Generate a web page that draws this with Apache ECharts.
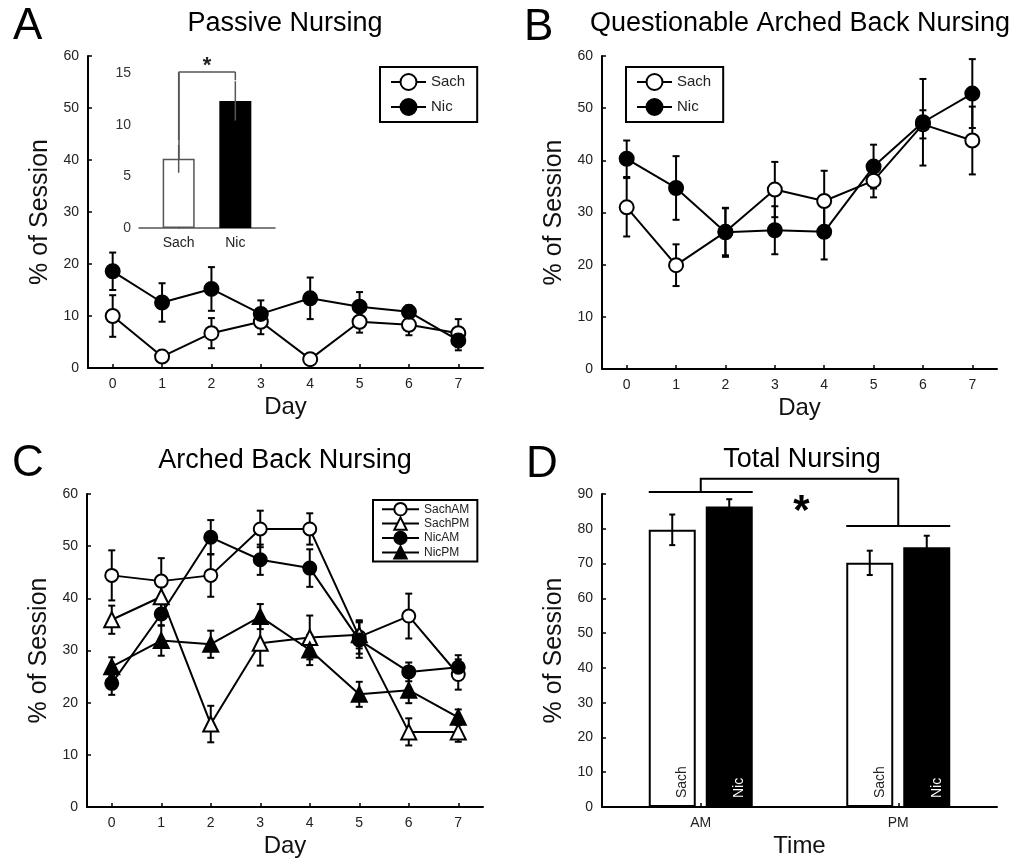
<!DOCTYPE html>
<html><head><meta charset="utf-8">
<script src="https://cdn.jsdelivr.net/npm/echarts@6/dist/echarts.min.js"></script>
<style>html,body{margin:0;padding:0;background:#fff}#c{width:1021px;height:859px}</style>
</head><body><div id="c"></div>
<script>
// ---------- data ----------
const days = ['0','1','2','3','4','5','6','7'];
// A: Passive Nursing
const passiveSach    = [10.0, 2.2, 6.7, 8.9, 1.7, 8.9, 8.3, 6.7];
const passiveSachSem = [4.0, 1.0, 2.9, 2.4, 0.8, 2.1, 2.0, 2.7];
const passiveNic     = [18.6, 12.6, 15.2, 10.4, 13.4, 11.8, 10.8, 5.3];
const passiveNicSem  = [3.6, 3.7, 4.2, 2.6, 4.0, 2.8, 1.2, 1.9];
// A inset
const insetCats  = ['Sach', 'Nic'];
const insetMeans = [6.7, 12.3];
const insetSem   = [1.35, 1.9];
const insetSigLevel = 15.1;
const insetSigLegEnds = [8.5, 14.3];
// B: Questionable Arched Back Nursing
const qabnSach    = [31.0, 19.9, 26.3, 34.4, 32.2, 36.1, 46.9, 43.8];
const qabnSachSem = [5.6, 4.0, 4.5, 5.3, 5.8, 3.2, 2.7, 6.5];
const qabnNic     = [40.3, 34.7, 26.2, 26.6, 26.3, 38.8, 47.3, 52.8];
const qabnNicSem  = [3.5, 6.1, 4.7, 4.6, 5.3, 4.2, 8.3, 6.6];
// C: Arched Back Nursing
const abnSachAM    = [44.4, 43.3, 44.4, 53.3, 53.3, 32.6, 36.6, 25.4];
const abnSachAMSem = [4.8, 4.4, 4.1, 3.5, 3.0, 3.2, 4.3, 2.9];
const abnSachPM    = [35.9, 40.3, 15.9, 31.4, 32.5, 33.0, 14.4, 14.4];
const abnSachPMSem = [2.7, 2.5, 3.5, 4.3, 4.2, 2.6, 2.6, 1.9];
const abnNicAM     = [23.7, 37.0, 51.7, 47.4, 45.8, 32.0, 25.9, 26.8];
const abnNicAMSem  = [2.2, 2.2, 3.3, 2.9, 3.6, 3.4, 1.8, 2.3];
const abnNicPM     = [26.9, 31.9, 31.2, 36.5, 30.1, 21.6, 22.4, 17.2];
const abnNicPMSem  = [1.8, 2.9, 2.6, 2.4, 2.9, 2.4, 2.5, 1.5];
// D: Total Nursing
const timeCats    = ['AM', 'PM'];
const totalSach    = [79.7, 70.2];
const totalSachSem = [4.4, 3.5];
const totalNic     = [86.4, 74.7];
const totalNicSem  = [2.1, 3.3];
const totalSigLevels = {am: 90.6, pm: 80.8, top: 94.4, star: 87.5};

// ---------- helpers ----------
const FONT = "'Liberation Sans', Arial, Helvetica, sans-serif";
const INK = '#111';

function dayAxis(gi) {
  return {
    type: 'category', gridIndex: gi, data: days, boundaryGap: true,
    name: 'Day', nameLocation: 'middle', nameGap: 27,
    nameTextStyle: {fontSize: 24, color: INK, fontFamily: FONT},
    axisLine: {show: true, lineStyle: {color: '#000', width: 2}},
    axisTick: {show: true, alignWithLabel: true, inside: true, length: 4, lineStyle: {color: '#000', width: 1.5}},
    axisLabel: {fontSize: 14, color: '#222', margin: 9, fontFamily: FONT},
    splitLine: {show: false}
  };
}
function pctAxis(gi, max, interval) {
  return {
    type: 'value', gridIndex: gi, min: 0, max: max, interval: interval,
    name: '% of Session', nameLocation: 'middle', nameGap: 35,
    nameTextStyle: {fontSize: 25, color: INK, fontFamily: FONT},
    axisLine: {show: true, lineStyle: {color: '#000', width: 2}},
    axisTick: {show: true, inside: true, length: 4, lineStyle: {color: '#000', width: 1.5}},
    axisLabel: {fontSize: 14, color: '#222', margin: 9, fontFamily: FONT},
    splitLine: {show: false}
  };
}
function lineSeries(name, ai, vals, symbol, filled, size) {
  return {
    type: 'line', name: name, xAxisIndex: ai, yAxisIndex: ai, data: vals,
    symbol: symbol, symbolSize: size, showAllSymbol: true,
    lineStyle: {color: '#000', width: 2},
    itemStyle: {color: filled ? '#000' : '#fff', borderColor: '#000', borderWidth: 2},
    z: 3, animation: false
  };
}
function errSeries(ai, xs, vals, sems, o) {
  o = o || {};
  const dx = o.dx || 0, cap = (o.cap === undefined ? 3.5 : o.cap), color = o.color || '#000', lw = o.lw || 2;
  return {
    type: 'custom', xAxisIndex: ai, yAxisIndex: ai, silent: true, animation: false,
    z: o.z || 1, clip: false,
    data: vals.map((v, i) => [xs[i], v - sems[i], v + sems[i]]),
    encode: {x: 0, y: [1, 2]},
    renderItem: function (params, api) {
      const x = api.value(0);
      const top = api.coord([x, api.value(2)]);
      const bot = api.coord([x, api.value(1)]);
      const cx = top[0] + dx;
      const style = {stroke: color, lineWidth: lw};
      const ch = [{type: 'line', shape: {x1: cx, y1: top[1], x2: cx, y2: bot[1]}, style: style}];
      if (cap > 0) {
        ch.push({type: 'line', shape: {x1: cx - cap, y1: top[1], x2: cx + cap, y2: top[1]}, style: style});
        ch.push({type: 'line', shape: {x1: cx - cap, y1: bot[1], x2: cx + cap, y2: bot[1]}, style: style});
      }
      return {type: 'group', children: ch};
    }
  };
}
const dayIdx = days.map((d, i) => i);

// ---------- option ----------
const barW = 47, barGapPx = 10;
const option = {
  animation: false,
  textStyle: {fontFamily: FONT},
  grid: [
    {left: 88, top: 56, width: 395, height: 312},
    {left: 139, top: 73, width: 136, height: 155},
    {left: 602, top: 56, width: 395, height: 313},
    {left: 87, top: 494, width: 396, height: 313},
    {left: 602, top: 494, width: 395, height: 313}
  ],
  xAxis: [
    dayAxis(0),
    {
      type: 'value', gridIndex: 1, min: -0.7, max: 1.7,
      axisLine: {show: true, lineStyle: {color: '#555', width: 1.5}},
      axisTick: {show: false},
      axisLabel: {fontSize: 14, color: '#222', margin: 8, fontFamily: FONT,
        customValues: [0, 1], formatter: v => insetCats[Math.round(v)] || ''},
      splitLine: {show: false}
    },
    dayAxis(2),
    dayAxis(3),
    {
      type: 'category', gridIndex: 4, data: timeCats, boundaryGap: true,
      name: 'Time', nameLocation: 'middle', nameGap: 27,
      nameTextStyle: {fontSize: 24, color: INK, fontFamily: FONT},
      axisLine: {show: true, lineStyle: {color: '#000', width: 2}},
      axisTick: {show: true, alignWithLabel: true, inside: true, length: 4, lineStyle: {color: '#000', width: 1.5}},
      axisLabel: {fontSize: 14, color: '#222', margin: 9, fontFamily: FONT},
      splitLine: {show: false}
    }
  ],
  yAxis: [
    pctAxis(0, 60, 10),
    {
      type: 'value', gridIndex: 1, min: 0, max: 15, interval: 5,
      axisLine: {show: true, lineStyle: {color: '#555', width: 1.5}},
      axisTick: {show: false},
      axisLabel: {fontSize: 14, color: '#333', margin: 8, fontFamily: FONT},
      splitLine: {show: false}
    },
    pctAxis(2, 60, 10),
    pctAxis(3, 60, 10),
    pctAxis(4, 90, 10)
  ],
  legend: [
    {data: ['Sach', 'Nic'], left: 380, top: 67, orient: 'vertical', selectedMode: false,
      borderColor: '#000', borderWidth: 2, padding: [6, 12, 6, 10], itemGap: 7,
      itemWidth: 35, itemHeight: 20, textStyle: {fontSize: 15, color: '#222', fontFamily: FONT}},
    {data: ['Sach', 'Nic'], left: 626, top: 67, orient: 'vertical', selectedMode: false,
      borderColor: '#000', borderWidth: 2, padding: [6, 12, 6, 10], itemGap: 7,
      itemWidth: 35, itemHeight: 20, textStyle: {fontSize: 15, color: '#222', fontFamily: FONT}},
    {data: ['SachAM', 'SachPM', 'NicAM', 'NicPM'], left: 373, top: 500, orient: 'vertical', selectedMode: false,
      borderColor: '#000', borderWidth: 2, padding: [2, 8, 2, 8], itemGap: 0,
      itemWidth: 37, itemHeight: 15.5, textStyle: {fontSize: 12, color: '#222', fontFamily: FONT}}
  ],
  series: [
    // A
    errSeries(0, dayIdx, passiveSach, passiveSachSem),
    errSeries(0, dayIdx, passiveNic, passiveNicSem),
    lineSeries('Sach', 0, passiveSach, 'circle', false, 14),
    lineSeries('Nic', 0, passiveNic, 'circle', true, 14),
    // inset
    {
      type: 'bar', name: 'Inset', xAxisIndex: 1, yAxisIndex: 1, barWidth: 32, animation: false,
      data: [
        {value: [0, insetMeans[0]], itemStyle: {color: '#fff', borderColor: '#555', borderWidth: 1.5}},
        {value: [1, insetMeans[1]], itemStyle: {color: '#000'}}
      ]
    },
    errSeries(1, [0, 1], insetMeans, insetSem, {cap: 0, color: '#555', lw: 1.5, z: 3}),
    {
      type: 'custom', xAxisIndex: 1, yAxisIndex: 1, silent: true, clip: false, z: 3,
      data: [[0, insetSigLevel]],
      renderItem: function (params, api) {
        const l = api.coord([0, insetSigLevel]), r = api.coord([1, insetSigLevel]);
        const lb = api.coord([0, insetSigLegEnds[0]]), rb = api.coord([1, insetSigLegEnds[1]]);
        const st = {stroke: '#555', lineWidth: 1.5};
        return {type: 'group', children: [
          {type: 'line', shape: {x1: l[0], y1: l[1], x2: r[0], y2: r[1]}, style: st},
          {type: 'line', shape: {x1: l[0], y1: l[1], x2: lb[0], y2: lb[1]}, style: st},
          {type: 'line', shape: {x1: r[0], y1: r[1], x2: rb[0], y2: rb[1]}, style: st},
          {type: 'text', x: (l[0] + r[0]) / 2, y: l[1] - 6,
            style: {text: '*', font: 'bold 22px ' + FONT, fill: '#222', align: 'center', verticalAlign: 'middle'}}
        ]};
      }
    },
    // B
    errSeries(2, dayIdx, qabnSach, qabnSachSem),
    errSeries(2, dayIdx, qabnNic, qabnNicSem),
    lineSeries('Sach', 2, qabnSach, 'circle', false, 14),
    lineSeries('Nic', 2, qabnNic, 'circle', true, 14),
    // C
    errSeries(3, dayIdx, abnSachAM, abnSachAMSem),
    errSeries(3, dayIdx, abnSachPM, abnSachPMSem),
    errSeries(3, dayIdx, abnNicAM, abnNicAMSem),
    errSeries(3, dayIdx, abnNicPM, abnNicPMSem),
    lineSeries('SachAM', 3, abnSachAM, 'circle', false, 13),
    lineSeries('SachPM', 3, abnSachPM, 'triangle', false, 15),
    lineSeries('NicAM', 3, abnNicAM, 'circle', true, 13),
    lineSeries('NicPM', 3, abnNicPM, 'triangle', true, 15),
    // D
    {
      type: 'bar', name: 'SachTotal', xAxisIndex: 4, yAxisIndex: 4, data: totalSach,
      barWidth: barW, barGap: (barGapPx / barW * 100) + '%', animation: false,
      itemStyle: {color: '#fff', borderColor: '#000', borderWidth: 2},
      label: {show: true, formatter: 'Sach', position: ['72%', '100%'], rotate: 90,
        align: 'left', verticalAlign: 'middle', offset: [9, 0], fontSize: 14, color: '#222', fontFamily: FONT}
    },
    {
      type: 'bar', name: 'NicTotal', xAxisIndex: 4, yAxisIndex: 4, data: totalNic,
      barWidth: barW, animation: false,
      itemStyle: {color: '#000'},
      label: {show: true, formatter: 'Nic', position: ['72%', '100%'], rotate: 90,
        align: 'left', verticalAlign: 'middle', offset: [9, 0], fontSize: 14, color: '#fff', fontFamily: FONT}
    },
    errSeries(4, [0, 1], totalSach, totalSachSem, {dx: -(barW + barGapPx) / 2, cap: 3, z: 5}),
    errSeries(4, [0, 1], totalNic, totalNicSem, {dx: (barW + barGapPx) / 2, cap: 3, z: 5, color: '#000'}),
    {
      type: 'custom', xAxisIndex: 4, yAxisIndex: 4, silent: true, clip: false, z: 5,
      data: [[0, totalSigLevels.top]],
      renderItem: function (params, api) {
        const half = barW + barGapPx / 2;
        const am = api.coord([0, totalSigLevels.am]), pm = api.coord([1, totalSigLevels.pm]);
        const topY = api.coord([0, totalSigLevels.top])[1];
        const starY = api.coord([0, totalSigLevels.star])[1];
        const starX = (am[0] + pm[0]) / 2;
        const st = {stroke: '#000', lineWidth: 2};
        return {type: 'group', children: [
          {type: 'line', shape: {x1: am[0] - half, y1: am[1], x2: am[0] + half, y2: am[1]}, style: st},
          {type: 'line', shape: {x1: pm[0] - half, y1: pm[1], x2: pm[0] + half, y2: pm[1]}, style: st},
          {type: 'polyline', shape: {points: [[am[0], am[1]], [am[0], topY], [pm[0], topY], [pm[0], pm[1]]]}, style: {stroke: '#000', lineWidth: 2, fill: null}},
          {type: 'text', x: starX + 2, y: starY + 10,
            style: {text: '*', font: 'bold 42px ' + FONT, fill: '#000', align: 'center', verticalAlign: 'middle'}}
        ]};
      }
    }
  ],
  graphic: [
    {type: 'text', x: 13, y: 27, style: {text: 'A', font: '44px ' + FONT, fill: '#000', align: 'left', verticalAlign: 'middle'}},
    {type: 'text', x: 285, y: 24, style: {text: 'Passive Nursing', font: '27px ' + FONT, fill: '#000', align: 'center', verticalAlign: 'middle'}},
    {type: 'text', x: 524, y: 28, style: {text: 'B', font: '44px ' + FONT, fill: '#000', align: 'left', verticalAlign: 'middle'}},
    {type: 'text', x: 800, y: 24, style: {text: 'Questionable Arched Back Nursing', font: '27px ' + FONT, fill: '#000', align: 'center', verticalAlign: 'middle'}},
    {type: 'text', x: 12, y: 464, style: {text: 'C', font: '44px ' + FONT, fill: '#000', align: 'left', verticalAlign: 'middle'}},
    {type: 'text', x: 285, y: 461, style: {text: 'Arched Back Nursing', font: '27px ' + FONT, fill: '#000', align: 'center', verticalAlign: 'middle'}},
    {type: 'text', x: 526, y: 465, style: {text: 'D', font: '44px ' + FONT, fill: '#000', align: 'left', verticalAlign: 'middle'}},
    {type: 'text', x: 802, y: 460, style: {text: 'Total Nursing', font: '27px ' + FONT, fill: '#000', align: 'center', verticalAlign: 'middle'}}
  ]
};
const chart = echarts.init(document.getElementById('c'), null, {renderer: 'canvas'});
chart.setOption(option);
</script>
</body></html>
